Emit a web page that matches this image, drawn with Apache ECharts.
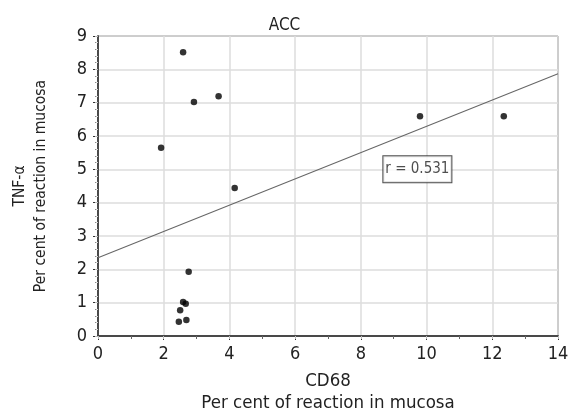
<!DOCTYPE html>
<html><head><meta charset="utf-8">
<script src="https://cdn.jsdelivr.net/npm/echarts@6/dist/echarts.min.js"></script>
<style>html,body{margin:0;padding:0;background:#fff}#c{width:569px;height:413px}</style>
</head><body><div id="c"></div>
<script>
var cd68 = [2.59, 2.92, 3.67, 1.92, 4.16, 2.76, 2.59, 2.67, 2.50, 2.46, 2.69, 9.80, 12.35];
var tnf  = [8.51, 7.02, 7.19, 5.65, 4.44, 1.93, 1.02, 0.97, 0.77, 0.43, 0.48, 6.59, 6.59];
var fitX = [0, 14];
var fitY = [2.35, 7.87];
var rLabel = 'r = 0.531';
var rPos = [9.72, 5.0];
var xTicks = [0, 2, 4, 6, 8, 10, 12, 14];
var yTicks = [0, 1, 2, 3, 4, 5, 6, 7, 8, 9];

var FONT = '"Liberation Sans Narrow","DejaVu Sans Condensed",sans-serif';
var pts = cd68.map(function(v,i){return [v, tnf[i]];});
var line = fitX.map(function(v,i){return [v, fitY[i]];});

var chart = echarts.init(document.getElementById('c'));
chart.setOption({
  animation:false,
  backgroundColor:'#fff',
  title:{text:'ACC', left:'center', top:12, textStyle:{fontFamily:FONT, fontSize:17, fontWeight:'normal', color:'#222'}},
  grid:{left:98, right:11, top:36, bottom:77, show:true, borderColor:'#444', borderWidth:1, outerBoundsMode:'none', containLabel:false},
  xAxis:[{
    type:'value', min:xTicks[0], max:xTicks[xTicks.length-1], interval:2,
    name:'CD68\nPer cent of reaction in mucosa', nameLocation:'middle', nameGap:34,
    nameTextStyle:{fontFamily:FONT, fontSize:18.5, color:'#222', lineHeight:22},
    axisLine:{lineStyle:{color:'#333', width:1.5}},
    axisTick:{show:true, inside:false, length:4, lineStyle:{color:'#333'}},
    minorTick:{show:true, splitNumber:2, length:3, lineStyle:{color:'#666'}},
    axisLabel:{fontFamily:FONT, fontSize:18, color:'#222', margin:9},
    splitLine:{show:true, lineStyle:{color:'#ddd', width:1.5}}
  },{
    type:'value', position:'top', min:0, max:14, interval:2,
    axisLine:{show:true, lineStyle:{color:'#444', width:1.5}},
    axisTick:{show:true, inside:true, length:3, lineStyle:{color:'#bbb'}},
    minorTick:{show:false}, axisLabel:{show:false}, splitLine:{show:false}
  }],
  yAxis:[{
    type:'value', min:yTicks[0], max:yTicks[yTicks.length-1], interval:1,
    name:'TNF-α\nPer cent of reaction in mucosa', nameLocation:'middle', nameGap:47, nameRotate:90,
    nameTextStyle:{fontFamily:FONT, fontSize:15.5, color:'#222', lineHeight:21},
    axisLine:{show:true, lineStyle:{color:'#333', width:1.5}},
    axisTick:{show:true, inside:false, length:5, lineStyle:{color:'#333'}},
    minorTick:{show:true, splitNumber:5, length:3, lineStyle:{color:'#888'}},
    axisLabel:{fontFamily:FONT, fontSize:18, color:'#222', margin:11},
    splitLine:{show:true, lineStyle:{color:'#ddd', width:1.5}}
  },{
    type:'value', position:'right', min:0, max:9, interval:1,
    axisLine:{show:true, lineStyle:{color:'#444', width:1.5}},
    axisTick:{show:true, inside:true, length:3, lineStyle:{color:'#bbb'}},
    minorTick:{show:true, splitNumber:5, length:2, lineStyle:{color:'#ccc'}},
    axisLabel:{show:false}, splitLine:{show:false}
  }],
  series:[{
    type:'line', data:line, symbol:'none', silent:true,
    lineStyle:{color:'#666', width:1.1}, z:3
  },{
    type:'scatter', data:pts, symbol:'circle', symbolSize:6.5,
    itemStyle:{color:'#000'}, z:5
  },{
    type:'scatter', data:[rPos], symbolSize:0, silent:true, z:6,
    label:{show:true, position:'inside', formatter:rLabel, fontFamily:FONT, fontSize:15, color:'#222',
      backgroundColor:'#fff', borderColor:'#222', borderWidth:1, padding:[6,2,5,2]}
  }]
});
</script></body></html>
